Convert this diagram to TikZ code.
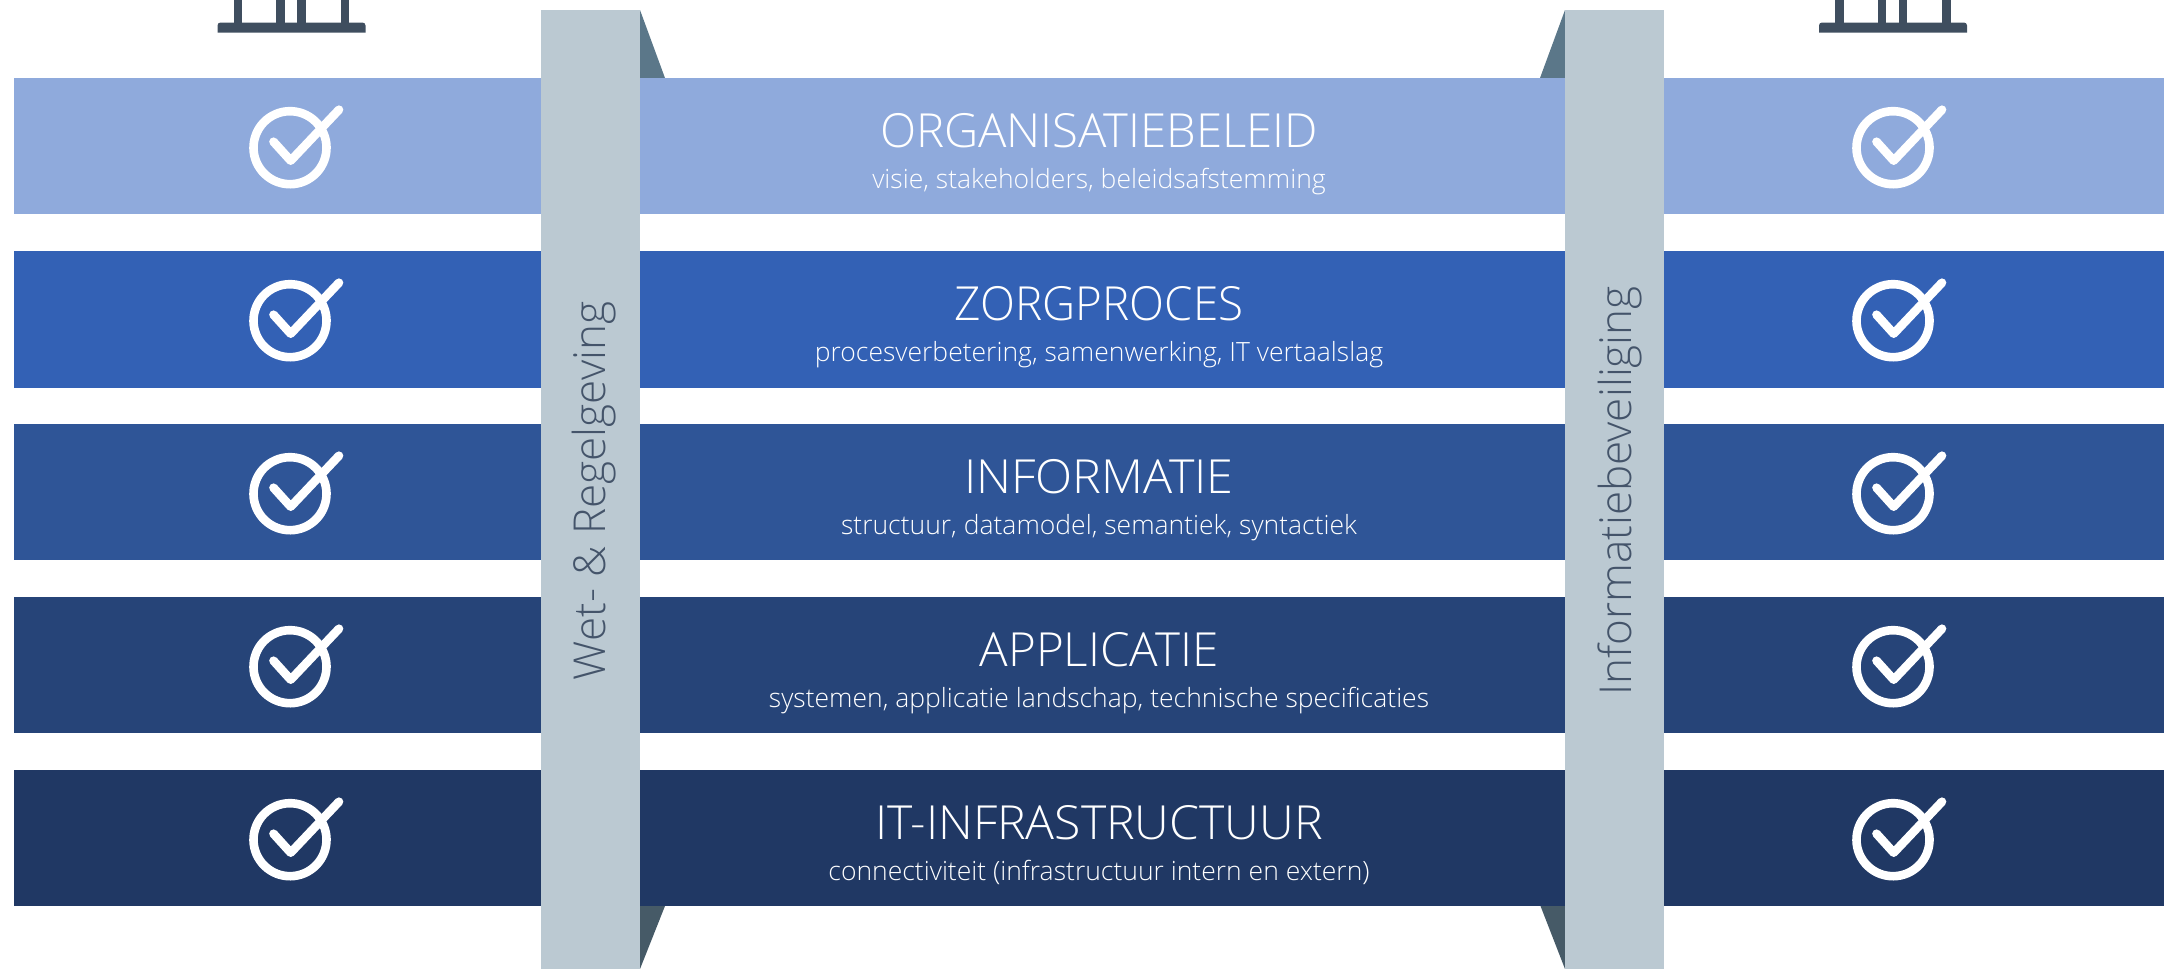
\documentclass[tikz,border=0pt]{standalone}
\usepackage{fontspec}
\setmainfont{Open Sans}[UprightFont=* Light]
\definecolor{barA}{HTML}{8FAADC}
\definecolor{barB}{HTML}{3361B5}
\definecolor{barC}{HTML}{2F5597}
\definecolor{barD}{HTML}{264478}
\definecolor{barE}{HTML}{203864}
\definecolor{pillar}{HTML}{BBC9D2}
\definecolor{wingtop}{HTML}{5B7789}
\definecolor{wingbot}{HTML}{465A67}
\definecolor{ped}{HTML}{3F4E5F}
\definecolor{pillartext}{HTML}{44546A}
\tikzset{
  title/.style={text=white,font=\fontsize{47}{47}\selectfont,anchor=base,inner sep=0pt},
  sub/.style={text=white,font=\fontsize{26.5}{27}\selectfont,anchor=base,inner sep=0pt},
  pillarlabel/.style={text=pillartext,font=\fontsize{44}{44}\selectfont,rotate=90,anchor=center,inner sep=0pt},
  tick/.style={white,line width=8.6pt,line cap=round,line join=round},
  ring/.style={white,line width=8.6pt}
}
\newcommand{\checkicon}[2]{%
  \draw[ring] (#1,#2)++(55:36.5) arc[start angle=55,end angle=-332,radius=36.5];
  \draw[tick] (#1-16.5,#2-6) -- (#1+0.7,#2+13) -- (#1+49,#2-38);
}
\newcommand{\pedestal}[1]{%
  \fill[ped] (#1,32.7) -- (#1,25.5) arc[start angle=180,end angle=270,radius=3] -- (#1+145,22.5) arc[start angle=-90,end angle=0,radius=3] -- (#1+148,32.7) -- cycle;
  \foreach \c in {16,58.5,79.5,123}{\fill[ped] (#1+\c,0) rectangle (#1+\c+8.8,24);}
}
\begin{document}
\begin{tikzpicture}[x=1pt,y=-1pt]
\useasboundingbox (0,0) rectangle (2164,969);
\pedestal{217.5}
\pedestal{1819}
% side wings
\fill[wingtop] (640,10) -- (665,78) -- (640,78) -- cycle;
\fill[wingtop] (1565,10) -- (1540,78) -- (1565,78) -- cycle;
\fill[wingbot] (640,906) -- (665,906) -- (640,969) -- cycle;
\fill[wingbot] (1565,906) -- (1540.5,906) -- (1565,969) -- cycle;
% bars
\fill[barA] (14,78) rectangle (2164,214);
\fill[barB] (14,251) rectangle (2164,388);
\fill[barC] (14,424) rectangle (2164,560);
\fill[barD] (14,597) rectangle (2164,733);
\fill[barE] (14,770) rectangle (2164,906);
% pillars
\fill[pillar] (541,10) rectangle (640,969);
\fill[pillar] (1565,10) rectangle (1664,969);
\node[pillarlabel] (wet) at (594,491) {Wet- \& Regelgeving};
\node[pillarlabel] (sec) at (1620,491) {Informatiebeveiliging};
% texts
\node[title,xscale=1.006] (t1) at (1099,147.5) {ORGANISATIEBELEID};
\node[sub] (s1) at (1099,188) {visie, stakeholders, beleidsafstemming};
\node[title,xscale=0.972] (t2) at (1099,320.5) {ZORGPROCES};
\node[sub] (s2) at (1099,361) {procesverbetering, samenwerking, IT vertaalslag};
\node[title,xscale=1.032] (t3) at (1099,493.5) {INFORMATIE};
\node[sub] (s3) at (1099,534) {structuur, datamodel, semantiek, syntactiek};
\node[title,xscale=1.012] (t4) at (1099,666.5) {APPLICATIE};
\node[sub] (s4) at (1099,707) {systemen, applicatie landschap, technische specificaties};
\node[title,xscale=1.025] (t5) at (1099,839.5) {IT-INFRASTRUCTUUR};
\node[sub] (s5) at (1099,880) {connectiviteit (infrastructuur intern en extern)};
% icons
\foreach \y in {147.7,320.7,493.7,666.7,839.7}{
  \checkicon{290}{\y}
  \checkicon{1893}{\y}
}
\end{tikzpicture}
\end{document}
